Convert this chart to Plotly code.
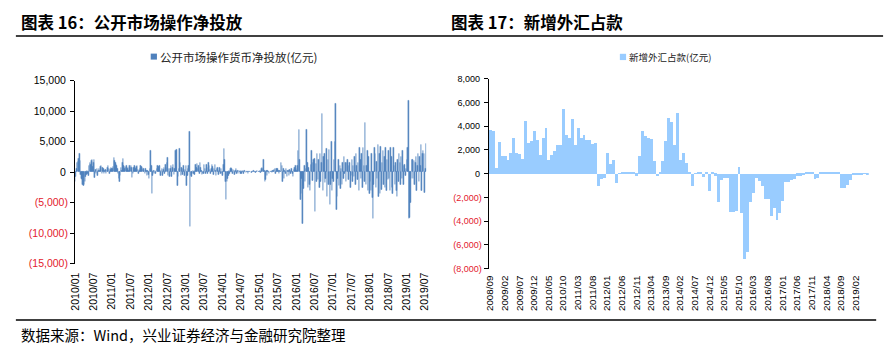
import pandas as pd
import plotly.graph_objects as go

# ---------------- data: weekly open-market net injection (亿元), 2010-01-01 .. 2019-07-12
omo_2010a = [-1500, -800, 500, 1500, 1700, 2200, 3000, 1800, -400, -1000, -1300, -2000, -2300, -2100, -1500, -800, -400, 300, -300, -600, 1000, 1500, 1200, 1800, 2000, 900]
omo_2010b = [1500, 2000, -900, 400, -300, 500, -500, 300, 600, 200, 900, 1000, -200, 800, 500, -300, 200, 400, -200, 300, 700, 1000, 600, -300, 400, 800, 500]
omo_2011a = [600, 900, 2400, 1800, 1500, 1200, 1000, 600, -300, -1000, -1500, -600, 700, 300, 1600, 2200, 1000, 600, 900, 700, 1000, 500, 800, 300, 1000, 700]
omo_2011b = [1000, 800, -900, -300, 700, 1000, 800, 600, 900, 1100, 400, -200, 300, 500, 1100, 900, 700, 400, 600, 300, -300, 500, 200, -600, 300, -400]
omo_2012a = [-1000, 500, 3600, 1000, -3600, -500, 300, -200, 200, -300, 100, 600, 1000, 900, 400, 1100, -500, 200, 500, -600, 400, 700, -300, 1200, 800, 1500]
omo_2012b = [2300, -500, 600, -800, 500, 1000, -700, 800, 1200, -400, 600, 3600, 1500, 3700, -2300, -800, 500, 3900, 1500, -600, 800, -400, 600, 1100, -500, 400]
omo_2013a = [1000, -2300, -500, 600, 1000, 6700, -9000, -500, -800, -300, 300, -200, -400, 200, 1200, 800, 1400, 600, 1000, -300, 1500, 800, 300, -400, -200, -300]
omo_2013b = [1200, 500, -300, 1300, 800, -200, 1500, 1000, 400, -300, 600, 1300, 900, -400, 600, 1200, 300, -600, 500, 800, -400, 300, 700, -300, 500, -200]
omo_2014a = [-500, 1200, 3800, 2000, -1500, -4500, -1500, -1000, -600, 300, -300, 500, 800, 600, -300, 400, 300, -400, 200, 600, -200, 300, -300, 200, 100, -200]
omo_2014b = [200, -300, 100, 300, -200, 200, 100, -100, 0, 100, -200, 0, 50, 100, 0, -100, 0, 100, 200, 100, 0, -50, 100, 200, 100, 0]
omo_2015a = [100, 200, -100, 500, 800, 600, 2000, 300, -1500, -1200, 200, -500, 300, 100, -200, 0, 100, 0, -100, 200, 300, 400, 500, -300, 600, 200]
omo_2015b = [600, 200, -300, 300, 100, 1500, 1000, -1500, 500, -1000, 300, -300, 500, -800, 300, 200, -500, 400, -200, 300, 600, -300, -800, 400, 800, 1000]
omo_2016a = [500, 200, 1000, 3600, 6900, 2000, -4500, -3600, -1000, -8400, -2300, -2700, 1000, -1500, 500, 6900, 1500, -2500, 800, -2000, -3000, 1200, 3500, -1400, 1500, 2000]
omo_2016b = [2200, -6500, 1400, -1500, 3000, -1200, 2000, -2500, 3000, -1500, 1500, 9600, -3000, 2500, 3000, -1800, -1000, 3900, -4000, 2000, -2000, 3700, -5300, -2000, 5000, -3000, -1000]
omo_2017a = [-1500, 2000, 5000, 11300, -6200, -4000, -1000, 2000, -2200, 1000, -2700, 600, -2000, 1500, -1000, 2500, -300, 1600, -1500, 1500, 2000, -1200, 1000, 1500, -2500, -600]
omo_2017b = [2000, -1500, 1000, -800, 2500, -2000, 3000, 1000, -1200, 1500, -3000, 4000, 2000, -1000, 3000, -2500, 4000, 1000, -1500, 8100, -2000, 1000, 3600, -3000, 2500, -3500]
omo_2018a = [-1500, -3000, 3000, -4200, -7700, -2000, 4000, 3000, -2500, 1700, -1000, 4500, -4000, 3000, -3500, 4200, -2800, 1500, 3500, -2000, 2500, -2500, 4000, -3000, 2000, -1200]
omo_2018b = [3500, -1000, -3000, 4000, 2500, -2500, -3500, 4000, 1000, -2000, 1500, -3000, -4000, 2000, -1500, 3000, 1500, -2000, 2500, -1000, 3500, -2000, 1000, 1200, -600, 500]
omo_2019a = [2000, 4000, 11700, -7700, -7500, -5000, -1000, 2000, 2000, -1000, 1800, -2000, 1500, 2500, -3000, 1000, 3000, -1500, 2500, 1000, 4500, -3000, 3000, 3500, 3000, -3300]
omo_2019b = [500, 4700]

omo_values = (omo_2010a + omo_2010b + omo_2011a + omo_2011b + omo_2012a + omo_2012b +
              omo_2013a + omo_2013b + omo_2014a + omo_2014b + omo_2015a + omo_2015b +
              omo_2016a + omo_2016b + omo_2017a + omo_2017b + omo_2018a + omo_2018b +
              omo_2019a + omo_2019b)
omo_weeks = pd.date_range(start="2010-01-01", periods=len(omo_values), freq="7D")

omo_tick_dates = [f"{y}-{m:02d}-01" for y in range(2010, 2020) for m in (1, 7)]
omo_tick_labels = [f"{y}/{m:02d}" for y in range(2010, 2020) for m in (1, 7)]

# ---------------- data: monthly new FX funds outstanding (亿元), 2008/09 .. 2019/06
fx_values = [3700, 3600, 500, 2700, 1500, 1500, 1200, 1750, 3050, 1750,
             1700, 1300, 4500, 2600, 2800, 3600, 2850, 1600, 3050, 3850,
             1200, 1600, 1900, 2400, 2400, 5500, 3300, 3000, 4650, 2450,
             3850, 3050, 3300, 2850, 2850, 2500, 2600, -1000, -400, -350,
             1800, 800, 1150, -750, 50, 150, 150, 150, 150, 150,
             -150, 1500, 3600, 3200, 3000, 2950, 1100, -200, 200, 1100,
             2800, 4700, 4400, 2400, 5100, 1200, 1800, 900, 100, -1000,
             50, 150, 150, -250, 100, -1400, 100, -150, -2400, -500,
             -300, -300, -3200, -3200, -3100, 600, -3300, -7200, -6600, -2400,
             -1600, -300, -600, -1000, -2100, -2100, -3500, -2900, -3900, -3300,
             -2300, -700, -700, -500, -450, -150, -150, -100, 100, 100,
             150, -400, -300, 100, 100, 150, 150, 150, 200, 100,
             -1200, -1200, -900, -500, -50, -50, -50, -30, 20, -20]
fx_months = [f"{2008 + (8 + k) // 12}/{(8 + k) % 12 + 1:02d}" for k in range(len(fx_values))]
fx_tick_labels = fx_months[::5]

left_yticks = [15000, 10000, 5000, 0, -5000, -10000, -15000]
right_yticks = [8000, 6000, 4000, 2000, 0, -2000, -4000, -6000, -8000]

# ---------------- layout geometry
W, H = 894, 351
RED = "#E3202D"


def px(x):
    return x / W


def py(y):
    return 1 - y / H


def fmt(v):
    if v < 0:
        return f'<span style="color:{RED}">({abs(v):,})</span>'
    return f"{v:,}\u2009"


L_dom_x = [px(69), px(424.5)]
L_dom_y = [py(266.7), py(77.3)]
R_dom_x = [px(487.7), px(872.5)]
R_dom_y = [py(272.0), py(75.3)]

num_font = "Liberation Sans, Arial, sans-serif"
cjk_font = "Noto Sans CJK SC, sans-serif"

fig = go.Figure()
fig.add_trace(go.Bar(
    x=omo_weeks, y=omo_values, name="公开市场操作货币净投放(亿元)",
    marker=dict(color="#4F81BD", line=dict(width=0.5, color="#4F81BD")),
    width=5.5 * 86400000, xaxis="x", yaxis="y", showlegend=False))
fig.add_trace(go.Bar(
    x=fx_months, y=fx_values, name="新增外汇占款(亿元)",
    marker=dict(color="#99CCFF", line=dict(width=0)),
    xaxis="x2", yaxis="y2", showlegend=False))

common_lbl = dict(showline=False, showgrid=False, zeroline=False, ticks="")
fig.update_layout(
    width=W, height=H, autosize=False,
    margin=dict(l=0, r=0, t=0, b=0),
    paper_bgcolor="white", plot_bgcolor="white",
    bargap=0,
    xaxis=dict(type="date", domain=L_dom_x, anchor="y",
               range=["2010-01-01", "2019-07-14"],
               tickmode="array", tickvals=omo_tick_dates, ticktext=omo_tick_labels,
               tickangle=-90, tickfont=dict(family=num_font, size=10.5, color="#000"),
               ticklabelstandoff=6, **common_lbl),
    xaxis3=dict(type="date", overlaying="x", anchor="free",
                position=(L_dom_y[0] + L_dom_y[1]) / 2, side="bottom",
                range=["2010-01-01", "2019-07-14"],
                tickmode="array", tickvals=omo_tick_dates, showticklabels=False,
                ticks="outside", ticklen=4, tickwidth=1, tickcolor="#000",
                showline=True, linecolor="#000", linewidth=2,
                showgrid=False, zeroline=False),
    yaxis=dict(domain=L_dom_y, anchor="x", range=[-15000, 15000],
               tickmode="array", tickvals=left_yticks,
               ticktext=[fmt(v) for v in left_yticks],
               tickfont=dict(family=num_font, size=10.5, color="#000"),
               ticks="outside", ticklen=4, tickcolor="#000",
               showline=True, linecolor="#000", linewidth=1.2,
               showgrid=False, zeroline=False),
    xaxis2=dict(type="category", domain=R_dom_x, anchor="y2",
                range=[-0.5, len(fx_values) - 0.5],
                tickmode="array", tickvals=fx_tick_labels, ticktext=fx_tick_labels,
                tickangle=-90, tickfont=dict(family=num_font, size=9.8, color="#000"),
                ticklabelstandoff=4, **common_lbl),
    xaxis4=dict(type="linear", overlaying="x2", anchor="free",
                position=(R_dom_y[0] + R_dom_y[1]) / 2, side="bottom",
                range=[-0.5, len(fx_values) - 0.5],
                tickmode="array", tickvals=[k - 0.5 for k in range(0, len(fx_values) + 1, 5)],
                showticklabels=False,
                ticks="outside", ticklen=4, tickwidth=1, tickcolor="#000",
                showline=True, linecolor="#000", linewidth=2,
                showgrid=False, zeroline=False),
    yaxis2=dict(domain=R_dom_y, anchor="x2", range=[-8000, 8000],
                tickmode="array", tickvals=right_yticks,
                ticktext=[fmt(v) for v in right_yticks],
                tickfont=dict(family=num_font, size=9, color="#000"),
                ticks="outside", ticklen=4, tickcolor="#000",
                showline=True, linecolor="#000", linewidth=1.2,
                showgrid=False, zeroline=False),
)

annotations = [
    dict(text="<b>图表 16：公开市场操作净投放</b>", x=px(12), y=py(17), xanchor="left", yanchor="middle",
         font=dict(family=cjk_font, size=16.5, color="#000")),
    dict(text="<b>图表 17：新增外汇占款</b>", x=px(447), y=py(17), xanchor="left", yanchor="middle",
         font=dict(family=cjk_font, size=16.5, color="#000")),
    dict(text="公开市场操作货币净投放(亿元)", x=px(153), y=py(52.5), xanchor="left", yanchor="middle",
         font=dict(family=cjk_font, size=11.5, color="#222")),
    dict(text="新增外汇占款(亿元)", x=px(628), y=py(52.5), xanchor="left", yanchor="middle",
         font=dict(family=cjk_font, size=9.5, color="#222")),
    dict(text="数据来源：Wind，兴业证券经济与金融研究院整理", x=px(12), y=py(340), xanchor="left", yanchor="middle",
         font=dict(family=cjk_font, size=14.5, color="#000")),
]
for a in annotations:
    a.update(xref="paper", yref="paper", showarrow=False)
fig.update_layout(annotations=annotations)

shapes = [
    dict(type="line", x0=px(9), x1=px(887), y0=py(31), y1=py(31), line=dict(color="#000", width=1.5)),
    dict(type="line", x0=px(9), x1=px(880), y0=py(325), y1=py(325), line=dict(color="#000", width=1.5)),
    dict(type="rect", x0=px(145.5), x1=px(151.8), y0=py(55.5), y1=py(49.3), line=dict(width=0), fillcolor="#4F81BD"),
    dict(type="rect", x0=px(620.5), x1=px(626.8), y0=py(56), y1=py(49.5), line=dict(width=0), fillcolor="#99CCFF"),
]
for s in shapes:
    s.update(xref="paper", yref="paper")
fig.update_layout(shapes=shapes)

fig.write_html("out.html")
